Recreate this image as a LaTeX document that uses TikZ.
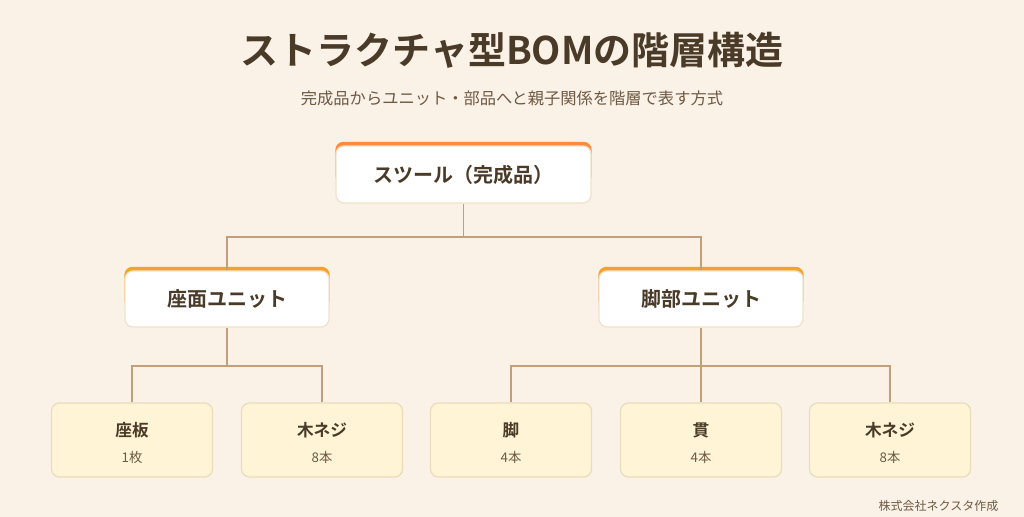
\documentclass[tikz,border=0pt]{standalone}
\usepackage{fontspec}
\setmainfont{Noto Sans CJK JP}
\newfontfamily\jpb{Noto Sans CJK JP Bold}
\usetikzlibrary{backgrounds}
\definecolor{bgcol}{HTML}{FAF1E7}
\definecolor{txtcol}{HTML}{4A3A28}
\definecolor{subcol}{HTML}{6E5A44}
\definecolor{linecol}{HTML}{BFA07A}
\definecolor{leafcol}{HTML}{FFF5D6}
\definecolor{leafline}{HTML}{EBDDBB}
\definecolor{topline}{HTML}{F0E2CC}
\definecolor{rootbar}{HTML}{FF8A3D}
\definecolor{unitbar}{HTML}{F7A12A}
\tikzset{
  box/.style={draw=topline,line width=1pt,fill=white,rounded corners=6pt,
    text=txtcol,font=\jpb\fontsize{15}{15}\selectfont},
  leaf/.style={draw=leafline,line width=1pt,fill=leafcol,rounded corners=6pt,
    minimum width=161\un,minimum height=74\un},
  link/.style={draw=linecol,line width=1pt},
  bar/.style={rounded corners=6pt},
}
\newlength{\un}\setlength{\un}{0.75pt}
\begin{document}
\begin{tikzpicture}[x=0.75pt,y=-0.75pt]
\begin{scope}[on background layer]
  \fill[bgcol] (0,0) rectangle (1024,517);
\end{scope}
\useasboundingbox (0,0) rectangle (1024,517);
% title
\node[text=txtcol,font=\jpb\fontsize{28.5}{28.5}\selectfont] (title) at (512,50) {ストラクチャ型BOMの階層構造};
\node[text=subcol,font=\fontsize{12.2}{12.2}\selectfont] (sub) at (512,98) {完成品からユニット・部品へと親子関係を階層で表す方式};
% root and units
\node[box,minimum width=255\un,minimum height=57\un] (root) at (463.5,174.5) {スツール（完成品）};
\node[box,minimum width=204\un,minimum height=56\un] (seat) at (227,299) {座面ユニット};
\node[box,minimum width=204\un,minimum height=56\un] (legs) at (701,299) {脚部ユニット};
\begin{scope}[on background layer]
  \fill[rootbar,bar] ([yshift=3.5\un]root.north west) rectangle ([yshift=20\un]root.south east);
  \fill[unitbar,bar] ([yshift=3.5\un]seat.north west) rectangle ([yshift=20\un]seat.south east);
  \fill[unitbar,bar] ([yshift=3.5\un]legs.north west) rectangle ([yshift=20\un]legs.south east);
\end{scope}
% leaves
\foreach \n/\x/\name/\qty in {p1/132/座板/1枚, p2/322/木ネジ/8本, p3/511/脚/4本, p4/701/貫/4本, p5/890/木ネジ/8本}{
  \node[leaf] (\n) at (\x,440) {};
  \node[text=txtcol,font=\jpb\fontsize{12.5}{12.5}\selectfont] (\n t) at (\x,430) {\name};
  \node[text=subcol,font=\fontsize{10}{10}\selectfont] (\n q) at (\x,457) {\qty};
}
% connectors
\coordinate (j0) at (463.5,237);
\coordinate (j1) at (227,366);
\coordinate (j2) at (701,366);
\draw[link] (root.south) -- (j0);
\draw[link] (seat.north) |- (j0) -| (legs.north);
\draw[link] (seat.south) -- (j1);
\draw[link] (p1.north) |- (j1) -| (p2.north);
\draw[link] (legs.south) -- (j2);
\draw[link] (p3.north) |- (j2) -| (p5.north);
\draw[link] (j2) -- (p4.north);
% footer
\node[anchor=east,text=subcol,font=\fontsize{9}{9}\selectfont] (foot) at (1003,506) {株式会社ネクスタ作成};
\end{tikzpicture}
\end{document}
